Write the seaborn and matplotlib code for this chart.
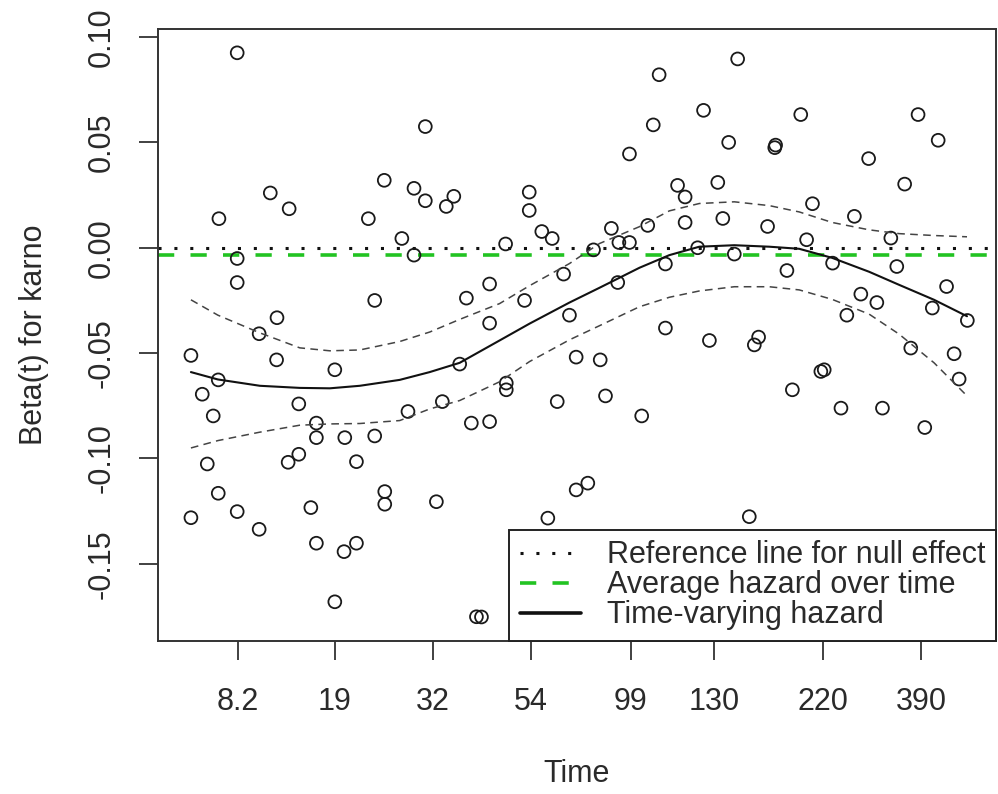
import numpy as np
import pandas as pd
import matplotlib
matplotlib.use("Agg")
import matplotlib.pyplot as plt
from matplotlib.lines import Line2D
import seaborn as sns

# transformed time (x) and scaled Schoenfeld residuals for karno (y)
resid_x = [0.0945, 0.319, 0.270, 0.134, 0.3055, 0.319, 0.1565, 0.0727, 0.251, 0.344,
           0.353, 0.291, 0.0945, 0.3055, 0.0945, 0.2586, 0.142, 0.1207,
           0.6917, 0.598, 0.651, 0.591, 0.681, 0.5626, 0.443, 0.443, 0.620, 0.629,
           0.668, 0.629, 0.674, 0.5844, 0.541, 0.458, 0.4704, 0.4148, 0.55, 0.5626,
           0.5197, 0.644, 0.6877, 0.6055, 0.484, 0.5486, 0.3957, 0.368, 0.4374, 0.491,
           0.3957, 0.6055,
           0.767, 0.907, 0.736, 0.737, 0.931, 0.848, 0.891, 0.781, 0.831, 0.7274,
           0.774, 0.8745, 0.805, 0.8816, 0.7505, 0.941, 0.8387, 0.8578, 0.822, 0.924,
           0.9658,
           0.0393, 0.1415, 0.211, 0.36, 0.0719, 0.0528, 0.168, 0.0659, 0.189, 0.2983,
           0.3393, 0.3739, 0.3957, 0.189, 0.2229, 0.2586, 0.168, 0.1553, 0.2368, 0.0588,
           0.0719, 0.2706, 0.2706, 0.3322, 0.1824, 0.0945, 0.0393, 0.1207, 0.189, 0.2368,
           0.222, 0.211, 0.380, 0.386,
           0.658, 0.7167, 0.7116, 0.499, 0.5277, 0.4156, 0.4156, 0.8983, 0.95, 0.956,
           0.795, 0.791, 0.757, 0.4764, 0.534, 0.5772, 0.815, 0.8645, 0.915, 0.499,
           0.5129, 0.4652, 0.7056]
resid_y = [0.0925, 0.0575, 0.032, 0.026, 0.0282, 0.0223, 0.0185, 0.0138, 0.0138, 0.0196,
           0.0244, 0.0044, -0.0051, -0.0035, -0.0165, -0.025, -0.0332, -0.0408,
           0.0896, 0.0821, 0.0652, 0.0583, 0.050, 0.0445, 0.0264, 0.0177, 0.0296, 0.0241,
           0.031, 0.012, 0.0139, 0.0106, 0.0092, 0.0077, 0.0044, 0.0018, 0.0025, 0.0025,
           -0.001, 0.0, -0.003, -0.0077, -0.0125, -0.0165, -0.0172, -0.0239, -0.025, -0.032,
           -0.0358, -0.0381,
           0.0632, 0.0632, 0.0475, 0.0487, 0.051, 0.0423, 0.0302, 0.0209, 0.0149, 0.0101,
           0.0038, 0.0046, -0.0073, -0.0089, -0.0108, -0.0184, -0.022, -0.026, -0.032, -0.0286,
           -0.0345,
           -0.0511, -0.0532, -0.0579, -0.0552, -0.0627, -0.0695, -0.0741, -0.0798, -0.0832, -0.0777,
           -0.073, -0.0832, -0.0825, -0.0901, -0.0901, -0.0893, -0.098, -0.1018, -0.1015, -0.1026,
           -0.1165, -0.1157, -0.1217, -0.1205, -0.1233, -0.1252, -0.1281, -0.1336, -0.1402, -0.1402,
           -0.1442, -0.168, -0.1751, -0.1752,
           -0.044, -0.0424, -0.0461, -0.0519, -0.0532, -0.0642, -0.0674, -0.0476, -0.0503, -0.0623,
           -0.0579, -0.0587, -0.0674, -0.073, -0.0703, -0.0798, -0.0761, -0.0761, -0.0853, -0.1149,
           -0.1117, -0.1283, -0.1276]

# smoothed beta(t) with confidence band
fit_x = [0.0393, 0.0715, 0.1216, 0.1692, 0.205, 0.2408, 0.2884, 0.3242, 0.36, 0.4076,
         0.4434, 0.491, 0.5268, 0.5745, 0.6102, 0.646, 0.6877, 0.7294, 0.7652, 0.8045,
         0.8486, 0.8844, 0.9261, 0.9654]
fit_beta = [-0.059, -0.0625, -0.0655, -0.0665, -0.0667, -0.0655, -0.0627, -0.059, -0.0546, -0.044,
            -0.036, -0.026, -0.019, -0.0095, -0.0035, 0.0005, 0.0012, 0.0005, -0.0005, -0.0048,
            -0.0114, -0.0176, -0.0247, -0.0325]
fit_upper = [-0.0247, -0.032, -0.0404, -0.0475, -0.0489, -0.0485, -0.0445, -0.040, -0.034, -0.0265,
             -0.018, -0.0075, 0.002, 0.010, 0.0175, 0.021, 0.0218, 0.020, 0.017, 0.012,
             0.0085, 0.0067, 0.0058, 0.0052]
fit_lower = [-0.095, -0.0915, -0.0875, -0.0842, -0.0836, -0.0834, -0.082, -0.0765, -0.0725, -0.0636,
             -0.054, -0.0437, -0.037, -0.028, -0.0235, -0.0205, -0.0185, -0.0185, -0.020, -0.0245,
             -0.0315, -0.041, -0.0546, -0.0703]

avg_beta = -0.0035

time_tick_pos = [0.095, 0.211, 0.328, 0.445, 0.564, 0.664, 0.793, 0.911]
time_tick_labels = ["8.2", "19", "32", "54", "99", "130", "220", "390"]
beta_ticks = [-0.15, -0.10, -0.05, 0.00, 0.05, 0.10]

sns.set_style("white")
plt.rcParams['font.family'] = ['Liberation Sans', 'DejaVu Sans']
text_col = '#2a2a2a'
fs = 22

fig = plt.figure(figsize=(9.98, 7.94), dpi=100)
ax = fig.add_axes([158 / 998, 153 / 794, 838 / 998, 612 / 794])

resid = pd.DataFrame({"x": resid_x, "y": resid_y})
fit = pd.DataFrame({"x": fit_x, "beta": fit_beta, "upper": fit_upper, "lower": fit_lower})

sns.scatterplot(data=resid, x="x", y="y", ax=ax, marker="o", s=85,
                facecolor="none", edgecolor="#1a1a1a", linewidth=1.3, zorder=3)

ax.axhline(0, color="#111111", lw=2.2, dashes=(1, 4.2), zorder=2)
ax.axhline(avg_beta, color="#22c322", lw=2.6, dashes=(4.5, 4.5), zorder=2)

sns.lineplot(data=fit, x="x", y="beta", ax=ax, color="#111111", lw=1.5,
             estimator=None, sort=True, zorder=4)
for col in ["upper", "lower"]:
    sns.lineplot(data=fit, x="x", y=col, ax=ax, color="#444444", lw=1.1,
                 estimator=None, sort=True, zorder=4).lines[-1].set_dashes((5, 3.5))

ax.set_xlim(0, 1)
ax.set_ylim(-0.1866, 0.1038)

ax.set_xticks(time_tick_pos)
ax.set_xticklabels(time_tick_labels)
ax.set_yticks(beta_ticks)
ax.set_yticklabels([f"{v:.2f}" for v in beta_ticks], rotation=90, va="center")

ax.tick_params(axis="both", which="major", length=14, width=1.3, colors="#333333",
               labelsize=fs, labelcolor=text_col, left=True, bottom=True)
ax.tick_params(axis="x", pad=19)
ax.tick_params(axis="y", pad=16)

ax.set_xlabel("Time", fontsize=fs, color=text_col, labelpad=30)
ax.set_ylabel("Beta(t) for karno", fontsize=fs, color=text_col, labelpad=27)

for s in ax.spines.values():
    s.set_color("#333333")
    s.set_linewidth(1.4)

handles = [
    Line2D([], [], color="#111111", lw=2.2, dashes=(1, 4.2)),
    Line2D([], [], color="#22c322", lw=2.6, dashes=(4.5, 4.5)),
    Line2D([], [], color="#111111", lw=2.6),
]
labels = ["Reference line for null effect", "Average hazard over time", "Time-varying hazard"]
leg = ax.legend(handles, labels, loc="lower right", bbox_to_anchor=(1, 0),
                borderaxespad=0, fontsize=fs, frameon=True, fancybox=False,
                edgecolor="#222222", framealpha=1, handlelength=2.0,
                handletextpad=0.85, labelspacing=0.0, borderpad=0.35)
leg.get_frame().set_linewidth(1.4)
for t in leg.get_texts():
    t.set_color(text_col)

fig.savefig("out.png", dpi=100)
